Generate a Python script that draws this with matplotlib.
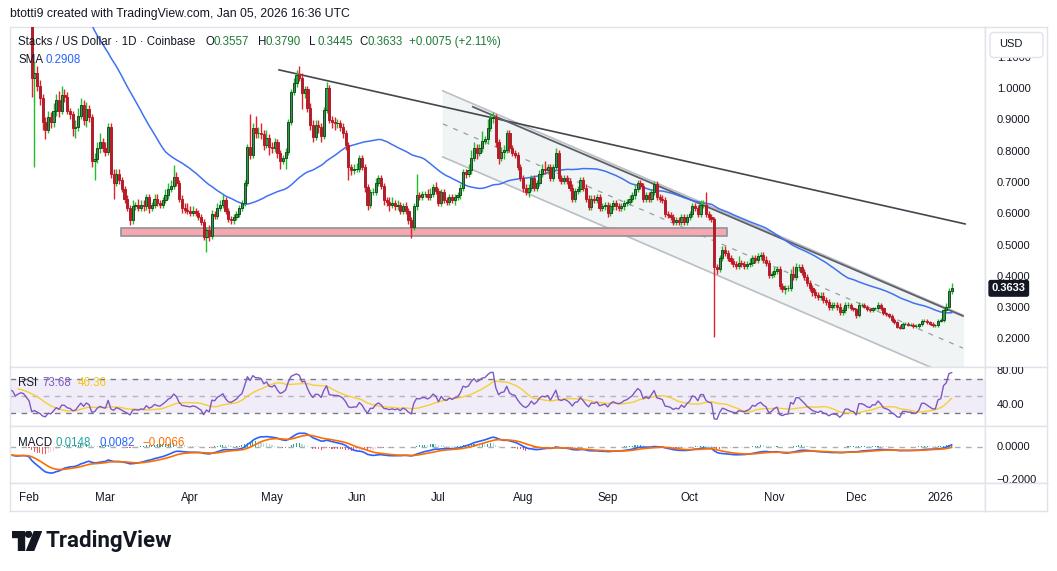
import numpy as np
import pandas as pd
import matplotlib
matplotlib.use('Agg')
import matplotlib.pyplot as plt
from matplotlib.patches import Rectangle, Circle, Polygon, FancyBboxPatch
import matplotlib.transforms as mtransforms

plt.rcParams['font.family'] = ['Liberation Sans', 'DejaVu Sans']

# ---- data ------------------------------------------------------------
# x axis = days since 2025-02-01
# Jan 2025 closes: above the visible price range, only feed the indicators
jan25 = [1.62, 1.70, 1.74, 1.76, 1.71, 1.74, 1.58, 1.52, 1.50, 1.53, 1.55, 1.52,
         1.38, 1.42, 1.48, 1.46, 1.52, 1.44, 1.36, 1.38, 1.40, 1.39, 1.42, 1.45,
         1.42, 1.40, 1.33, 1.36, 1.38, 1.37, 1.32]

# daily candles (close, upper wick, lower wick), wicks in 1/1000 USD
feb = [(1.27, 30, 25), (1.035, 20, 60), (1.05, 37, 285), (1.01, 25, 15), (0.97, 20, 20),
       (0.895, 15, 25), (0.87, 15, 30), (0.91, 20, 10), (0.895, 15, 20), (0.93, 25, 15),
       (0.965, 20, 15), (0.93, 30, 20), (0.98, 30, 10), (0.975, 20, 15), (0.93, 15, 10),
       (0.92, 10, 15), (0.875, 10, 25), (0.88, 20, 30), (0.915, 25, 15), (0.95, 20, 10),
       (0.90, 15, 15), (0.935, 25, 20), (0.91, 15, 15), (0.77, 10, 20), (0.775, 20, 60),
       (0.81, 20, 10), (0.83, 30, 15), (0.81, 15, 10)]
mar = [(0.80, 20, 15), (0.88, 10, 10), (0.73, 10, 15), (0.70, 15, 50), (0.73, 15, 10),
       (0.71, 15, 15), (0.68, 10, 10), (0.65, 10, 15), (0.62, 10, 10), (0.58, 10, 15),
       (0.625, 20, 10), (0.63, 10, 10), (0.62, 20, 10), (0.63, 15, 10), (0.625, 15, 15),
       (0.655, 10, 10), (0.62, 10, 15), (0.63, 10, 10), (0.65, 15, 10), (0.635, 15, 10),
       (0.63, 10, 10), (0.645, 10, 10), (0.66, 20, 10), (0.68, 20, 10), (0.69, 20, 10),
       (0.72, 37, 10), (0.70, 15, 10), (0.65, 10, 10), (0.62, 10, 15), (0.615, 15, 10),
       (0.61, 20, 10)]
apr = [(0.605, 15, 10), (0.61, 15, 10), (0.605, 10, 10), (0.59, 10, 10), (0.575, 10, 10),
       (0.527, 10, 10), (0.55, 10, 47), (0.53, 15, 15), (0.60, 15, 10), (0.595, 10, 10),
       (0.62, 15, 10), (0.63, 15, 10), (0.645, 20, 10), (0.61, 10, 10), (0.585, 10, 10),
       (0.58, 10, 10), (0.59, 10, 10), (0.60, 10, 10), (0.62, 10, 10), (0.635, 10, 10),
       (0.70, 10, 10), (0.815, 10, 10), (0.79, 105, 15), (0.875, 15, 10), (0.86, 40, 15),
       (0.86, 20, 15), (0.855, 30, 15), (0.82, 15, 15), (0.845, 25, 10), (0.815, 10, 25)]
may = [(0.81, 15, 15), (0.83, 15, 10), (0.795, 10, 15), (0.77, 10, 25), (0.78, 10, 10),
       (0.80, 10, 35), (0.895, 10, 10), (0.99, 10, 10), (1.02, 15, 10), (1.045, 15, 15),
       (1.035, 29, 10), (0.987, 15, 50), (1.0, 10, 15), (0.94, 10, 15), (0.885, 15, 15),
       (0.847, 15, 15), (0.885, 15, 10), (0.88, 15, 20), (0.85, 10, 20), (0.933, 10, 10),
       (1.003, 20, 10), (0.90, 10, 10), (0.895, 15, 20), (0.89, 15, 20), (0.89, 15, 15),
       (0.88, 10, 15), (0.86, 10, 15), (0.82, 10, 15), (0.75, 10, 40), (0.74, 10, 15),
       (0.745, 15, 10)]
jun = [(0.745, 20, 10), (0.78, 10, 10), (0.75, 10, 10), (0.687, 10, 15), (0.63, 10, 15),
       (0.67, 10, 10), (0.67, 15, 10), (0.70, 15, 10), (0.715, 10, 10), (0.69, 10, 10),
       (0.645, 10, 15), (0.64, 10, 15), (0.63, 15, 20), (0.635, 20, 10), (0.625, 10, 10),
       (0.63, 15, 10), (0.61, 10, 10), (0.625, 10, 10), (0.61, 15, 10), (0.58, 10, 10),
       (0.56, 10, 35), (0.625, 10, 10), (0.66, 70, 10), (0.655, 10, 10), (0.665, 10, 10),
       (0.665, 10, 10), (0.655, 15, 10), (0.665, 20, 10), (0.687, 10, 10), (0.675, 15, 10)]
jul = [(0.635, 10, 10), (0.67, 10, 10), (0.645, 10, 10), (0.64, 10, 10), (0.655, 10, 10),
       (0.645, 10, 10), (0.655, 10, 15), (0.66, 10, 10), (0.685, 10, 10), (0.735, 10, 10),
       (0.73, 10, 15), (0.74, 20, 10), (0.78, 25, 10), (0.81, 20, 10), (0.795, 15, 20),
       (0.81, 15, 10), (0.835, 30, 10), (0.84, 10, 10), (0.875, 30, 15), (0.907, 15, 10),
       (0.91, 15, 15), (0.83, 10, 15), (0.78, 10, 20), (0.80, 15, 10), (0.805, 15, 25),
       (0.86, 10, 10), (0.81, 10, 10), (0.795, 10, 10), (0.79, 10, 10), (0.75, 10, 10),
       (0.715, 10, 10)]
aug = [(0.685, 10, 15), (0.67, 10, 10), (0.685, 10, 15), (0.715, 10, 10), (0.685, 10, 10),
       (0.70, 10, 10), (0.73, 10, 10), (0.745, 15, 10), (0.74, 25, 10), (0.75, 10, 10),
       (0.715, 10, 10), (0.75, 10, 10), (0.795, 15, 10), (0.715, 10, 10), (0.705, 10, 10),
       (0.715, 10, 10), (0.705, 10, 10), (0.685, 10, 10), (0.65, 10, 10), (0.675, 10, 10),
       (0.68, 10, 10), (0.71, 10, 10), (0.685, 10, 10), (0.65, 10, 10), (0.623, 10, 10),
       (0.65, 10, 10), (0.645, 10, 10), (0.655, 10, 10), (0.62, 10, 10), (0.625, 10, 10),
       (0.63, 10, 10)]
sep = [(0.605, 10, 15), (0.625, 10, 10), (0.635, 10, 10), (0.625, 10, 10), (0.62, 10, 10),
       (0.625, 10, 10), (0.635, 10, 10), (0.64, 10, 10), (0.65, 10, 10), (0.66, 10, 10),
       (0.68, 15, 10), (0.70, 10, 10), (0.69, 10, 10), (0.65, 10, 10), (0.66, 10, 10),
       (0.65, 10, 10), (0.67, 10, 10), (0.695, 10, 10), (0.655, 10, 10), (0.65, 10, 10),
       (0.645, 10, 10), (0.60, 10, 10), (0.597, 10, 10), (0.59, 10, 10), (0.575, 10, 10),
       (0.58, 10, 10), (0.575, 10, 10), (0.59, 10, 10), (0.575, 10, 10), (0.59, 10, 10)]
oct_ = [(0.60, 10, 10), (0.625, 10, 10), (0.62, 10, 10), (0.60, 10, 10), (0.63, 15, 10),
        (0.63, 15, 10), (0.60, 42, 10), (0.59, 10, 10), (0.585, 10, 10), (0.43, 5, 221),
        (0.425, 10, 15), (0.46, 10, 10), (0.485, 15, 10), (0.475, 15, 10), (0.46, 10, 10),
        (0.45, 10, 10), (0.44, 10, 10), (0.435, 10, 10), (0.445, 20, 10), (0.44, 10, 10),
        (0.435, 10, 10), (0.44, 10, 10), (0.445, 15, 10), (0.46, 10, 10), (0.455, 10, 10),
        (0.465, 10, 10), (0.47, 10, 10), (0.455, 10, 10), (0.445, 10, 10), (0.405, 10, 10),
        (0.41, 10, 10)]
nov = [(0.42, 10, 10), (0.425, 10, 10), (0.37, 10, 10), (0.36, 10, 10), (0.365, 10, 15),
       (0.365, 10, 10), (0.41, 15, 10), (0.40, 25, 10), (0.43, 15, 10), (0.43, 10, 10),
       (0.415, 10, 10), (0.40, 10, 10), (0.38, 10, 10), (0.365, 10, 10), (0.35, 10, 10),
       (0.342, 10, 10), (0.335, 10, 10), (0.34, 10, 10), (0.326, 10, 10), (0.32, 10, 10),
       (0.305, 10, 10), (0.31, 10, 10), (0.31, 10, 10), (0.305, 10, 10), (0.288, 10, 10),
       (0.295, 10, 10), (0.31, 10, 10), (0.31, 10, 10), (0.30, 5, 5), (0.297, 5, 5)]
dec = [(0.278, 5, 10), (0.31, 10, 5), (0.31, 5, 5), (0.305, 5, 5), (0.296, 5, 5),
       (0.293, 5, 5), (0.30, 5, 5), (0.30, 5, 5), (0.31, 10, 5), (0.30, 5, 5),
       (0.284, 5, 5), (0.28, 5, 5), (0.275, 5, 5), (0.262, 5, 5), (0.255, 5, 5),
       (0.24, 5, 5), (0.238, 5, 5), (0.25, 5, 5), (0.25, 5, 5), (0.247, 5, 5),
       (0.247, 5, 5), (0.243, 5, 5), (0.243, 5, 5), (0.248, 5, 5), (0.26, 5, 5),
       (0.26, 5, 5), (0.255, 5, 5), (0.25, 5, 5), (0.245, 5, 5), (0.245, 5, 5),
       (0.26, 5, 5)]
jan26 = [(0.262, 5, 5), (0.295, 5, 5), (0.305, 10, 5), (0.3557, 10, 5), (0.3633, 15.7, 11.2)]

# drawings: (day, price)
trend_long = [(91.6, 1.061), (342.9, 0.569)]
trend_upper = [(162.6, 0.943), (342.1, 0.275)]
channel_top = [(151.6, 0.994), (342.1, 0.278)]
channel_width = 0.211
support_zone = [(33.7, 0.529), (255.7, 0.5575)]

month_names = ['Feb', 'Mar', 'Apr', 'May', 'Jun', 'Jul', 'Aug', 'Sep', 'Oct', 'Nov', 'Dec', '2026']
price_ticks = [1.1, 1.0, 0.9, 0.8, 0.7, 0.6, 0.5, 0.4, 0.3, 0.2]

# ---- build series ------------------------------------------------------
rows = feb + mar + apr + may + jun + jul + aug + sep + oct_ + nov + dec + jan26
close = np.array([r[0] for r in rows])
wup = np.array([r[1] for r in rows]) / 1000
wdn = np.array([r[2] for r in rows]) / 1000
opn = np.concatenate([[jan25[-1]], close[:-1]])
high = np.maximum(opn, close) + wup
low = np.minimum(opn, close) - wdn
x = np.arange(len(close))

allc = pd.Series(jan25 + list(close))
xall = np.arange(len(allc)) - len(jan25)
sma = allc.rolling(50).mean()

delta = allc.diff()
g = delta.clip(lower=0).ewm(alpha=1 / 14, adjust=False, min_periods=14).mean()
ls = (-delta.clip(upper=0)).ewm(alpha=1 / 14, adjust=False, min_periods=14).mean()
rsi = 100 - 100 / (1 + g / ls)
rsi_ma = rsi.rolling(14).mean()

macd = allc.ewm(span=12, adjust=False).mean() - allc.ewm(span=26, adjust=False).mean()
signal = macd.ewm(span=9, adjust=False).mean()
hist = macd - signal

# ---- figure ------------------------------------------------------------
W, H = 1057, 571
fig = plt.figure(figsize=(W / 100, H / 100), dpi=100)
fig.patch.set_facecolor('white')


def box(x0, y0, x1, y1):
    return [x0 / W, 1 - y1 / H, (x1 - x0) / W, (y1 - y0) / H]


BORDER = '#e0e3eb'
TXT = '#131722'
XL = (-6.96, 350.2)
MAIN_Y = (0.112, 1.198)
RSI_Y = (15.4, 84.5)
MACD_Y = (-0.218, 0.126)

ax = fig.add_axes(box(10, 27, 985, 367))
ax_rsi = fig.add_axes(box(10, 367, 985, 425.7))
ax_macd = fig.add_axes(box(10, 425.7, 985, 483))
ax_time = fig.add_axes(box(10, 483, 985, 511))
sc_main = fig.add_axes(box(985, 27, 1047, 367))
sc_rsi = fig.add_axes(box(985, 367, 1047, 425.7))
sc_macd = fig.add_axes(box(985, 425.7, 1047, 483))
sc_corner = fig.add_axes(box(985, 483, 1047, 511))

for a in [ax, ax_rsi, ax_macd, ax_time, sc_main, sc_rsi, sc_macd, sc_corner]:
    a.set_xticks([])
    a.set_yticks([])
    for s in a.spines.values():
        s.set_color(BORDER)
        s.set_linewidth(1)
for a in [ax, ax_rsi, ax_macd, ax_time]:
    a.set_xlim(*XL)
ax.set_ylim(*MAIN_Y)
ax_rsi.set_ylim(*RSI_Y)
ax_macd.set_ylim(*MACD_Y)
sc_main.set_ylim(*MAIN_Y)
sc_rsi.set_ylim(*RSI_Y)
sc_macd.set_ylim(*MACD_Y)

# channel
(cx0, cy0), (cx1, cy1) = channel_top
ax.fill_between([cx0, cx1], [cy0 - channel_width, cy1 - channel_width], [cy0, cy1],
                color='#f1f4f4', zorder=0)
ax.plot([cx0, cx1], [cy0, cy1], color='#bcbfc5', lw=1.2, zorder=1)
ax.plot([cx0, cx1], [cy0 - channel_width, cy1 - channel_width], color='#bcbfc5', lw=1.2, zorder=1)
ax.plot([cx0, cx1], [cy0 - channel_width / 2, cy1 - channel_width / 2], color='#9a9da6',
        lw=0.9, dashes=(4, 5), zorder=1)

# support zone
(zx0, zy0), (zx1, zy1) = support_zone
ax.add_patch(Rectangle((zx0, zy0), zx1 - zx0, zy1 - zy0, facecolor='#f7a8ae',
                       edgecolor='#8f9299', lw=1.2, zorder=1))

# trend lines
ax.plot(*zip(*trend_long), color='#45474f', lw=1.2, zorder=2)
ax.plot(*zip(*trend_upper), color='#5d6069', lw=1.3, zorder=2)

# SMA
ax.plot(xall, sma, color='#3f72f2', lw=1.1, zorder=3)

# candles
up = close >= opn
dn = ~up
ax.vlines(x[up], low[up], high[up], color='#1fbf2a', lw=1.0, zorder=4)
ax.vlines(x[dn], low[dn], high[dn], color='#e3212b', lw=1.0, zorder=4)
ax.bar(x[up], close[up] - opn[up], bottom=opn[up], width=0.8, color='#2e9b44',
       edgecolor='#1c4a24', lw=0.7, zorder=5)
ax.bar(x[dn], close[dn] - opn[dn], bottom=opn[dn], width=0.8, color='#b21f2a',
       edgecolor='#b21f2a', lw=0.7, zorder=5)

# RSI panel
ax_rsi.axhspan(30, 70, color='#7e57c2', alpha=0.1, lw=0)
ax_rsi.axhline(70, color='#787b86', lw=1, dashes=(4, 4))
ax_rsi.axhline(30, color='#787b86', lw=1, dashes=(4, 4))
ax_rsi.axhline(50, color='#787b86', lw=1, dashes=(4, 4), alpha=0.5)
ax_rsi.plot(xall, rsi_ma, color='#f7cf32', lw=1)
ax_rsi.plot(xall, rsi, color='#7e57c2', lw=1)

# MACD panel
hv = hist.values
prev = np.concatenate([[0], hv[:-1]])
hcol = np.where(hv >= 0, np.where(hv > prev, '#26a69a', '#b2dfdb'),
                np.where(hv < prev, '#ff5252', '#ffcdd2'))
ax_macd.axhline(0, color='#787b86', lw=1, dashes=(4, 4), alpha=0.6)
ax_macd.bar(xall, hv, width=0.4, color=hcol, lw=0)
ax_macd.plot(xall, macd, color='#2962ff', lw=1.2)
ax_macd.plot(xall, signal, color='#ff6d00', lw=1.2)

# time axis labels
months = pd.date_range('2025-02-01', '2026-01-01', freq='MS')
mdays = (months - pd.Timestamp('2025-02-01')).days
for d, name in zip(mdays, month_names):
    ax_time.text(d, 0.45, name, ha='center', va='center', fontsize=8.3, color=TXT,
                 family=['Liberation Sans Narrow', 'Liberation Sans', 'DejaVu Sans'])


# right scale labels
def scale_text(a, val, s):
    tr = mtransforms.blended_transform_factory(a.transAxes, a.transData)
    a.text(0.19, val, s, transform=tr, ha='left', va='center', fontsize=8, color=TXT,
           clip_on=True)


for p in price_ticks:
    scale_text(sc_main, p, '%.4f' % p)
scale_text(sc_rsi, 80, '80.00')
scale_text(sc_rsi, 40, '40.00')
scale_text(sc_macd, 0, '0.0000')
scale_text(sc_macd, -0.2, '\u22120.2000')

tr = mtransforms.blended_transform_factory(sc_main.transAxes, sc_main.transData)
sc_main.text(0.11, close[-1], '%.4f' % close[-1], transform=tr, ha='left', va='center',
             fontsize=8, color='white', fontweight='bold',
             bbox=dict(boxstyle='round,pad=0.25,rounding_size=0.15', fc=TXT, ec=TXT))

# USD button
ax_usd = fig.add_axes(box(989, 31, 1044, 59))
ax_usd.set_xlim(0, 55)
ax_usd.set_ylim(0, 28)
ax_usd.axis('off')
ax_usd.add_patch(FancyBboxPatch((1, 1.5), 53, 25, boxstyle='round,pad=0,rounding_size=4',
                                fc='white', ec='#e0e3eb', lw=1))
ax_usd.text(10, 15, 'USD', ha='left', va='center', fontsize=8, color=TXT)


# legends
def ftext(px, py, s, color=TXT, size=8.3, **kw):
    fig.text(px / W, 1 - py / H, s, color=color, fontsize=size, va='center', ha='left', **kw)


ftext(10, 14, 'btotti9 created with TradingView.com, Jan 05, 2026 16:36 UTC', size=8.8)
ftext(18, 42, 'Stacks / US Dollar \u00b7 1D \u00b7 Coinbase')
GRN = '#1f7a36'
for px, lab, val in [(206, 'O', '0.3557'), (258, 'H', '0.3790'), (309, 'L', '0.3445'),
                     (359, 'C', '0.3633')]:
    ftext(px, 42, lab)
    ftext(px + 8, 42, val, color=GRN)
ftext(409, 42, '+0.0075 (+2.11%)', color=GRN)
ftext(18, 60, 'SMA')
ftext(46, 60, '0.2908', color='#2962ff')
ftext(18, 383, 'RSI')
ftext(42, 383, '73.68', color='#7e57c2')
ftext(78, 383, '46.36', color='#f5c518')
ftext(18, 443, 'MACD')
ftext(55, 443, '0.0148', color='#26a69a')
ftext(99, 443, '0.0082', color='#2962ff')
ftext(142, 443, '\u22120.0066', color='#ff6d00')

# logo
ax_logo = fig.add_axes(box(12, 531, 42, 551))
ax_logo.set_xlim(0, 30)
ax_logo.set_ylim(0, 20)
ax_logo.axis('off')
ax_logo.add_patch(Polygon([(0, 20), (12, 20), (12, 0), (6, 0), (6, 14), (0, 14)], color=TXT))
ax_logo.add_patch(Circle((16.5, 16.8), 3, color=TXT))
ax_logo.add_patch(Polygon([(22.5, 20), (29.5, 20), (21.5, 0), (14.5, 0)], color=TXT))
fig.text(46 / W, 1 - 541 / H, 'TradingView', fontsize=16, fontweight='bold', color=TXT,
         va='center', ha='left', family=['Roboto', 'DejaVu Sans'])

fig.savefig('out.png', dpi=100)
